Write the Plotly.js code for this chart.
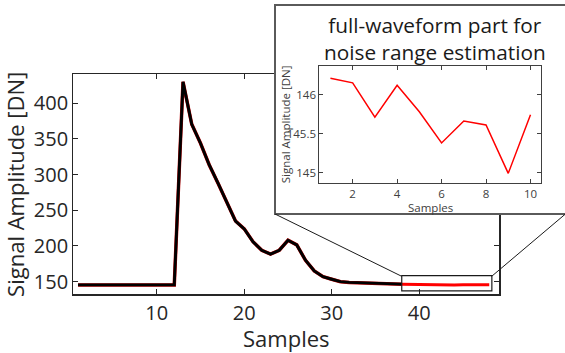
<!DOCTYPE html>
<html>
<head>
<meta charset="utf-8">
<script src="https://cdn.plot.ly/plotly-3.0.1.min.js"></script>
<style>html,body{margin:0;padding:0;background:#fff;}#chart{width:565px;height:353px;}</style>
</head>
<body>
<div id="chart"></div>
<script>
// ---- data ----
var samples = [1,2,3,4,5,6,7,8,9,10,11,12,13,14,15,16,17,18,19,20,21,22,23,24,25,26,27,28,29,30,31,32,33,34,35,36,37,38,39,40,41,42,43,44,45,46,47,48];
var signal = [145.5,145.5,145.5,145.5,145.5,145.5,145.5,145.5,145.5,145.5,145.5,145.5,
              430,370.5,344,313.5,288,262,235,224,206,194,188.7,194,208,201.5,180,165,157,153.4,150,149,148.5,148,148,147.5,147,146.5,
              146.21,146.15,145.71,146.12,145.78,145.38,145.66,145.61,144.99,145.74];
var noiseStart = 38;               // first sample of the highlighted (red) part in the main plot
var noiseSamples = [1,2,3,4,5,6,7,8,9,10];
var noise = [146.21,146.15,145.71,146.12,145.78,145.38,145.66,145.61,144.99,145.74];
var mainXTicks = [10,20,30,40];
var mainYTicks = [150,200,250,300,350,400];
var insetXTicks = [2,4,6,8,10];
var insetYTicks = [145,145.5,146];
var insetYTickText = ['145','145.5','146'];

// ---- geometry helpers (pixels -> paper fractions, figure 565x353, zero margins) ----
var W = 565, H = 353;
function px(x){ return x / W; }
function py(y){ return 1 - y / H; }

var redIdx = samples.indexOf(noiseStart);
var traces = [
  {x: samples.slice(0, redIdx + 1), y: signal.slice(0, redIdx + 1), type: 'scatter', mode: 'lines', xaxis: 'x', yaxis: 'y',
   line: {color: '#c00000', width: 3.5}, hoverinfo: 'skip'},
  {x: samples.slice(0, redIdx + 1), y: signal.slice(0, redIdx + 1), type: 'scatter', mode: 'lines', xaxis: 'x', yaxis: 'y',
   line: {color: '#000000', width: 2.9}, hoverinfo: 'skip'},
  {x: samples.slice(redIdx), y: signal.slice(redIdx), type: 'scatter', mode: 'lines', xaxis: 'x', yaxis: 'y',
   line: {color: '#ff0000', width: 3}, hoverinfo: 'skip'},
  // cover subplot (white inset panel)
  {x: [], y: [], type: 'scatter', mode: 'lines', xaxis: 'x2', yaxis: 'y2', hoverinfo: 'skip'},
  // inset
  {x: noiseSamples, y: noise, type: 'scatter', mode: 'lines', xaxis: 'x3', yaxis: 'y3',
   line: {color: '#ff0000', width: 1.5}, hoverinfo: 'skip'}
];

var FONT = 'Open Sans, Noto Sans, sans-serif';
var DARK = '#262626';
var GRAY = '#404040';

var layout = {
  width: W, height: H,
  margin: {l: 0, r: 0, t: 0, b: 0},
  paper_bgcolor: '#ffffff',
  plot_bgcolor: '#ffffff',
  showlegend: false,
  font: {family: FONT, color: DARK},
  xaxis: {
    domain: [px(73.3), px(499.3)], range: [0.46, 49.15], anchor: 'y',
    tickvals: mainXTicks, ticks: 'inside', ticklen: 5, tickcolor: DARK, tickwidth: 1,
    showline: true, mirror: 'ticks', linecolor: DARK, linewidth: 1.2,
    showgrid: false, zeroline: false,
    tickfont: {family: FONT, size: 20, color: DARK},
    title: {text: 'Samples', font: {family: FONT, size: 22, color: DARK}, standoff: 8}
  },
  yaxis: {
    domain: [py(294.3), py(74.3)], range: [132.3, 440.6], anchor: 'x',
    tickvals: mainYTicks, ticks: 'inside', ticklen: 5, tickcolor: DARK, tickwidth: 1,
    showline: true, mirror: 'ticks', linecolor: DARK, linewidth: 1.2,
    showgrid: false, zeroline: false,
    tickfont: {family: FONT, size: 20, color: DARK},
    title: {text: 'Signal Amplitude [DN]', font: {family: FONT, size: 22, color: DARK}, standoff: 4}
  },
  xaxis2: {domain: [px(275), 1], range: [0, 1], anchor: 'y2', visible: false, fixedrange: true},
  yaxis2: {domain: [py(214), py(5)], range: [0, 1], anchor: 'x2', visible: false, fixedrange: true},
  xaxis3: {
    domain: [px(319.3), px(540.5)], range: [0.5, 10.45], anchor: 'y3',
    tickvals: insetXTicks, ticks: 'inside', ticklen: 4, tickcolor: GRAY, tickwidth: 1,
    showline: true, mirror: 'ticks', linecolor: GRAY, linewidth: 1,
    showgrid: false, zeroline: false,
    tickfont: {family: FONT, size: 11.5, color: GRAY}
  },
  yaxis3: {
    domain: [py(182.7), py(65.7)], range: [144.87, 146.37], anchor: 'x3',
    tickvals: insetYTicks, ticktext: insetYTickText, ticks: 'inside', ticklen: 4, tickcolor: GRAY, tickwidth: 1,
    showline: true, mirror: 'ticks', linecolor: GRAY, linewidth: 1,
    showgrid: false, zeroline: false,
    tickfont: {family: FONT, size: 11.5, color: GRAY}
  },
  shapes: [
    // inset panel border (right side runs off the figure)
    {type: 'path', xref: 'paper', yref: 'paper', layer: 'above',
     path: 'M ' + px(570) + ' ' + py(5) + ' L ' + px(275) + ' ' + py(5) + ' L ' + px(275) + ' ' + py(214) + ' L ' + px(570) + ' ' + py(214),
     line: {color: '#5a5a5a', width: 2}},
    // highlight rectangle around the noise part
    {type: 'rect', xref: 'x', yref: 'y', layer: 'above', x0: 38, x1: 48.3, y0: 137, y1: 158.4,
     line: {color: '#1a1a1a', width: 1.2}, fillcolor: 'rgba(0,0,0,0)'},
    // connector lines
    {type: 'line', xref: 'paper', yref: 'paper', layer: 'above',
     x0: px(275), y0: py(214), x1: px(401.7), y1: py(276.3), line: {color: '#1a1a1a', width: 1}},
    {type: 'line', xref: 'paper', yref: 'paper', layer: 'above',
     x0: px(491.7), y0: py(276.3), x1: px(566), y1: py(213.5), line: {color: '#1a1a1a', width: 1}}
  ],
  annotations: [
    {xref: 'paper', yref: 'paper', x: px(435), y: py(9), xanchor: 'center', yanchor: 'top',
     showarrow: false, align: 'center',
     text: 'full-waveform part for<br>noise range estimation',
     font: {family: FONT, size: 20.8, color: '#1a1a1a'}},
    {xref: 'paper', yref: 'paper', x: px(430), y: py(207), xanchor: 'center', yanchor: 'middle',
     showarrow: false, text: 'Samples', font: {family: FONT, size: 11.5, color: GRAY}},
    {xref: 'paper', yref: 'paper', x: px(285), y: py(124.2), xanchor: 'center', yanchor: 'middle',
     showarrow: false, textangle: -90, text: 'Signal Amplitude [DN]', font: {family: FONT, size: 11.5, color: GRAY}}
  ]
};

Plotly.newPlot('chart', traces, layout, {staticPlot: true, displayModeBar: false});
</script>
</body>
</html>
